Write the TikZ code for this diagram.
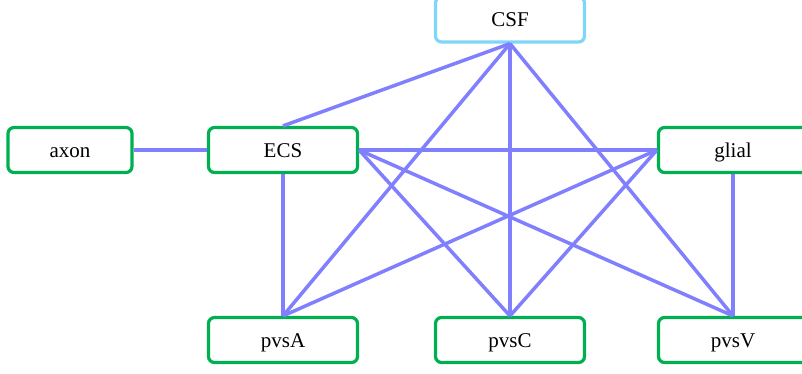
\documentclass[tikz,border=0pt]{standalone}
\usepackage{fontspec}
\setmainfont{Liberation Serif}
\usepackage{tikz}
\usetikzlibrary{positioning}
\usepackage{xcolor}
\definecolor{boxgreen}{RGB}{0,176,80}
\definecolor{boxblue}{RGB}{128,214,248}
\definecolor{linkblue}{RGB}{128,128,255}

\begin{document}
\begin{tikzpicture}[x=1pt,y=-1pt,
	  every node/.style={align=center,text=black,font=\fontsize{21}{24}\selectfont},
	  compartment/.style={draw=boxgreen,line width=3.2pt,rounded corners=6pt,minimum width=149pt,minimum height=45pt,inner sep=0pt,text height=14pt,text depth=0pt},
	  fluid/.style={compartment,draw=boxblue},
	  link/.style={draw=linkblue,line width=3.5pt}]

	  \useasboundingbox (0,0) rectangle (802,373);

	  % Position the nodes at coordinates
	  \node[fluid] (csf) at (510,19.5) {CSF};
	  \node[compartment,minimum width=124pt] (axon) at (70,150) {axon};
	  \node[compartment] (ecs) at (283,150) {ECS};
	  \node[compartment] (glial) at (733,150) {glial};
	  \node[compartment] (pvsa) at (283,340) {pvsA};
	  \node[compartment] (pvsc) at (510,340) {pvsC};
	  \node[compartment] (pvsv) at (733,340) {pvsV};

	  \draw[link] (axon.east) -- (ecs.west);
	  \draw[link] (csf.south) -- (ecs.north);
	  \draw[link] (csf.south) -- (pvsa.north);
	  \draw[link] (csf.south) -- (pvsc.north);
	  \draw[link] (csf.south) -- (pvsv.north);
	  \draw[link] (ecs.east) -- (glial.west);
	  \draw[link] (ecs.east) -- (pvsc.north);
	  \draw[link] (ecs.east) -- (pvsv.north);
	  \draw[link] (ecs.south) -- (pvsa.north);
	  \draw[link] (glial.west) -- (pvsa.north);
	  \draw[link] (glial.west) -- (pvsc.north);
	  \draw[link] (glial.south) -- (pvsv.north);
\end{tikzpicture}
\end{document}
